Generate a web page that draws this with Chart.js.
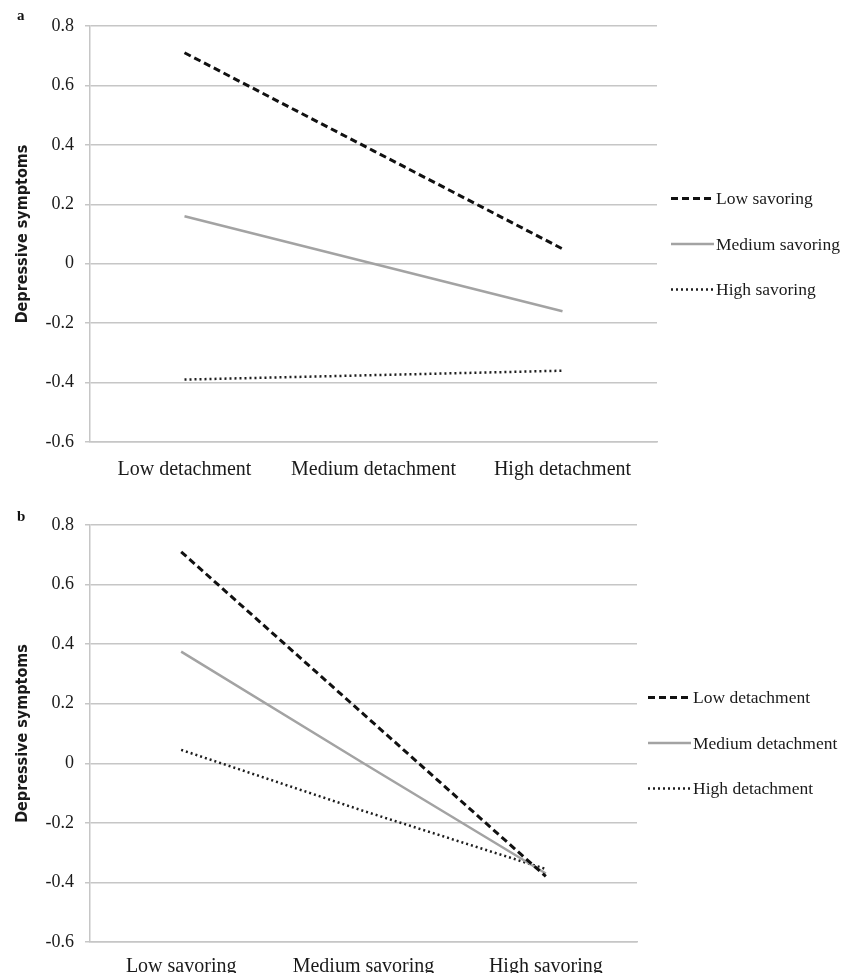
<!DOCTYPE html>
<html>
<head>
<meta charset="utf-8">
<script src="https://cdn.jsdelivr.net/npm/chart.js@4.4.1/dist/chart.umd.min.js"></script>
<style>
  body { margin: 0; background: #fff; overflow: hidden; }
  .panel { position: absolute; left: 0; width: 842px; }
  .tag { position: absolute; left: 17px; font: bold 15px "Liberation Serif", serif; color: #111; }
</style>
</head>
<body>
<div class="panel" style="top:0;height:485px"><canvas id="chart-a"></canvas></div>
<div class="panel" style="top:485px;height:488px"><canvas id="chart-b"></canvas></div>
<span class="tag" style="top:7px">a</span>
<span class="tag" style="top:508px">b</span>
<script>
// panel a: x = detachment, lines = savoring level
const detachmentLabels = ['Low detachment', 'Medium detachment', 'High detachment'];
const savoringNames = ['Low savoring', 'Medium savoring', 'High savoring'];
const lowSavoring = [0.71, 0.38, 0.05];
const mediumSavoring = [0.16, 0.0, -0.16];
const highSavoring = [-0.39, -0.375, -0.36];

// panel b: x = savoring, lines = detachment level
const savoringLabels = ['Low savoring', 'Medium savoring', 'High savoring'];
const detachmentNames = ['Low detachment', 'Medium detachment', 'High detachment'];
const lowDetachment = [0.71, 0.165, -0.38];
const mediumDetachment = [0.375, 0.0, -0.37];
const highDetachment = [0.045, -0.16, -0.355];

const yMin = -0.6;
const yMax = 0.8;
const yStep = 0.2;

const serif = '"Liberation Serif", "Times New Roman", serif';
const narrowSans = '"Liberation Sans Narrow", "DejaVu Sans Condensed", "Liberation Sans", sans-serif';
const textColor = '#1a1a1a';
const gridColor = '#c6c6c6';

function lineSet(label, data, style) {
    const base = { label, data, pointRadius: 0, tension: 0, fill: false, borderCapStyle: 'butt' };
    if (style === 'dashed') return { ...base, borderColor: '#111', borderWidth: 3, borderDash: [7, 4] };
    if (style === 'solid') return { ...base, borderColor: '#a3a3a3', borderWidth: 2.5, borderDash: [] };
    return { ...base, borderColor: '#1e1e1e', borderWidth: 2.5, borderDash: [2, 3] };
}

// legend drawn beside the plot: line sample followed by the label
const sideLegend = {
    id: 'sideLegend',
    afterDraw(chart, args, opts) {
        const ctx = chart.ctx;
        const x0 = chart.chartArea.right + opts.gap;
        chart.data.datasets.forEach((ds, i) => {
            const y = opts.centerY + (i - 1) * opts.spacing;
            ctx.save();
            ctx.strokeStyle = ds.borderColor;
            ctx.lineWidth = ds.borderWidth;
            ctx.setLineDash(ds.borderDash);
            ctx.beginPath();
            ctx.moveTo(x0, y);
            ctx.lineTo(x0 + opts.lineLength, y);
            ctx.stroke();
            ctx.setLineDash([]);
            ctx.fillStyle = textColor;
            ctx.font = '17.5px ' + serif;
            ctx.textBaseline = 'middle';
            ctx.fillText(ds.label, x0 + opts.lineLength + 2, y + 1);
            ctx.restore();
        });
    }
};

function makeChart(id, labels, names, series, box) {
    const ctx = document.getElementById(id).getContext('2d');
    return new Chart(ctx, {
        type: 'line',
        data: {
            labels: labels,
            datasets: [
                lineSet(names[0], series[0], 'dashed'),
                lineSet(names[1], series[1], 'solid'),
                lineSet(names[2], series[2], 'dotted')
            ]
        },
        plugins: [sideLegend],
        options: {
            responsive: true,
            maintainAspectRatio: false,
            animation: false,
            layout: { padding: { top: box.top, right: box.right, left: 0, bottom: box.bottom } },
            plugins: {
                tooltip: { enabled: false },
                legend: { display: false },
                sideLegend: { gap: box.gap, lineLength: 43, spacing: 45.5, centerY: box.legendY }
            },
            scales: {
                x: {
                    offset: true,
                    afterFit: function (scale) { scale.height = 42; },
                    grid: { display: false },
                    border: { display: true, color: gridColor, width: 1.5 },
                    ticks: { color: textColor, font: { family: serif, size: 20 }, padding: box.xPad, maxRotation: 0 }
                },
                y: {
                    min: yMin,
                    max: yMax,
                    afterFit: function (scale) { scale.width = 90; },
                    grid: { color: gridColor, lineWidth: 1.5, tickLength: 5 },
                    border: { display: true, color: gridColor, width: 1.5 },
                    title: {
                        display: true,
                        text: 'Depressive symptoms',
                        color: textColor,
                        font: { family: narrowSans, size: 16, weight: 'bold' },
                        padding: { top: 13, bottom: 0 }
                    },
                    ticks: {
                        stepSize: yStep,
                        color: textColor,
                        padding: 11,
                        font: { family: serif, size: 18 },
                        callback: function (v) { return String(Math.round(v * 10) / 10); }
                    }
                }
            }
        }
    });
}

makeChart('chart-a', detachmentLabels, savoringNames,
    [lowSavoring, mediumSavoring, highSavoring],
    { top: 26, bottom: 1, right: 185, xPad: 8, gap: 14, legendY: 244 });
makeChart('chart-b', savoringLabels, detachmentNames,
    [lowDetachment, mediumDetachment, highDetachment],
    { top: 40, bottom: -11, right: 205, xPad: 5, gap: 11, legendY: 258 });
</script>
</body>
</html>
